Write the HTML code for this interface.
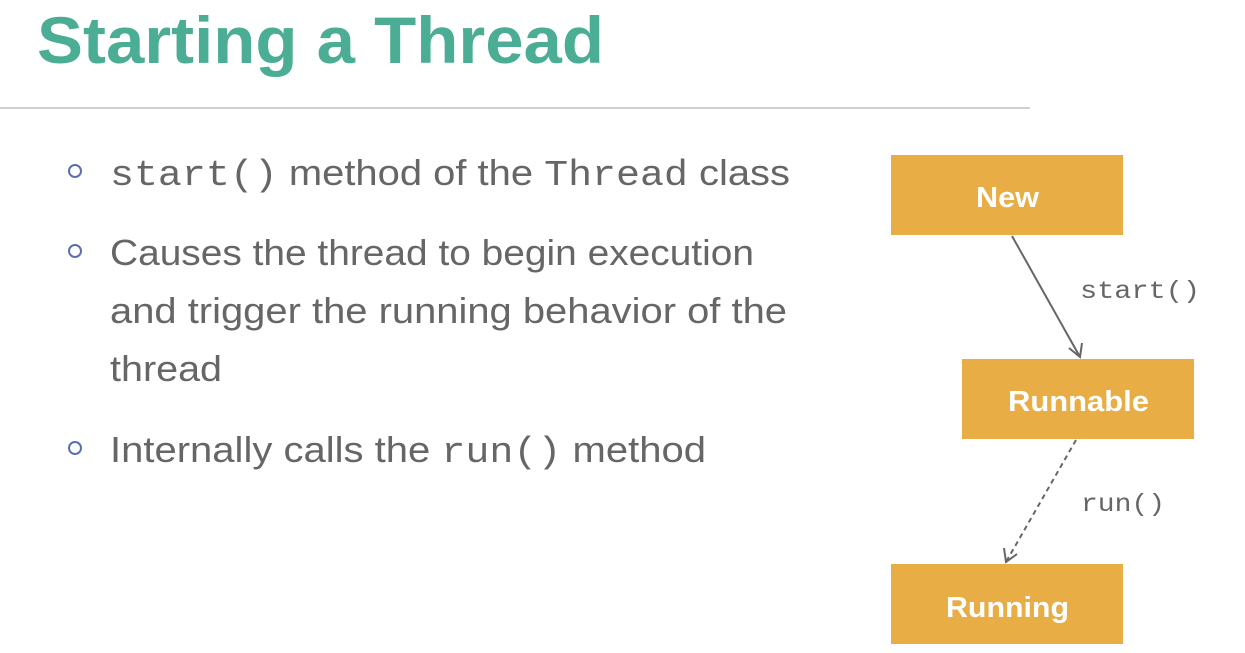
<!DOCTYPE html>
<html><head><meta charset="utf-8"><style>
html,body{margin:0;padding:0;background:#fff;}
svg{display:block}
</style></head><body>
<svg width="1245" height="653" viewBox="0 0 1245 653" xmlns="http://www.w3.org/2000/svg">
<rect width="1245" height="653" fill="#fff"/>
<text x="37" y="63" font-family="Liberation Sans, sans-serif" font-weight="bold" font-size="66" fill="#4aad94" textLength="567" lengthAdjust="spacingAndGlyphs">Starting a Thread</text>
<line x1="0" y1="108" x2="1030" y2="108" stroke="#cfcfcf" stroke-width="2"/>
<g fill="none" stroke="#5a6fb0" stroke-width="2">
<circle cx="75" cy="171" r="6"/><circle cx="75" cy="251" r="6"/><circle cx="75" cy="448" r="6"/>
</g>
<g font-family="Liberation Sans, sans-serif" font-size="36" fill="#666">
<text x="110" y="185" textLength="680" lengthAdjust="spacingAndGlyphs"><tspan font-family="Liberation Mono, monospace">start()</tspan> method of the <tspan font-family="Liberation Mono, monospace">Thread</tspan> class</text>
<text x="110" y="265" textLength="644" lengthAdjust="spacingAndGlyphs">Causes the thread to begin execution</text>
<text x="110" y="323" textLength="677" lengthAdjust="spacingAndGlyphs">and trigger the running behavior of the</text>
<text x="110" y="381" textLength="112" lengthAdjust="spacingAndGlyphs">thread</text>
<text x="110" y="462" textLength="596" lengthAdjust="spacingAndGlyphs">Internally calls the <tspan font-family="Liberation Mono, monospace">run()</tspan> method</text>
</g>
<g fill="#e8ae45">
<rect x="891" y="155" width="232" height="80"/>
<rect x="962" y="359" width="232" height="80"/>
<rect x="891" y="564" width="232" height="80"/>
</g>
<g font-family="Liberation Sans, sans-serif" font-weight="bold" font-size="29" fill="#fff">
<text x="976" y="207" textLength="63" lengthAdjust="spacingAndGlyphs">New</text>
<text x="1008" y="411" textLength="141" lengthAdjust="spacingAndGlyphs">Runnable</text>
<text x="946" y="617" textLength="123" lengthAdjust="spacingAndGlyphs">Running</text>
</g>
<g stroke="#666" stroke-width="2" fill="none">
<line x1="1012" y1="236" x2="1080" y2="357"/>
<polyline points="1069,348 1080,357 1082,343"/>
<line x1="1076" y1="440" x2="1006" y2="562" stroke-dasharray="5,4"/>
<polyline points="1004,548 1006,562 1017,554"/>
</g>
<g font-family="Liberation Mono, monospace" font-size="25" fill="#666">
<text x="1080" y="298" textLength="120" lengthAdjust="spacingAndGlyphs">start()</text>
<text x="1081" y="511" textLength="84" lengthAdjust="spacingAndGlyphs">run()</text>
</g>
</svg>
</body></html>
